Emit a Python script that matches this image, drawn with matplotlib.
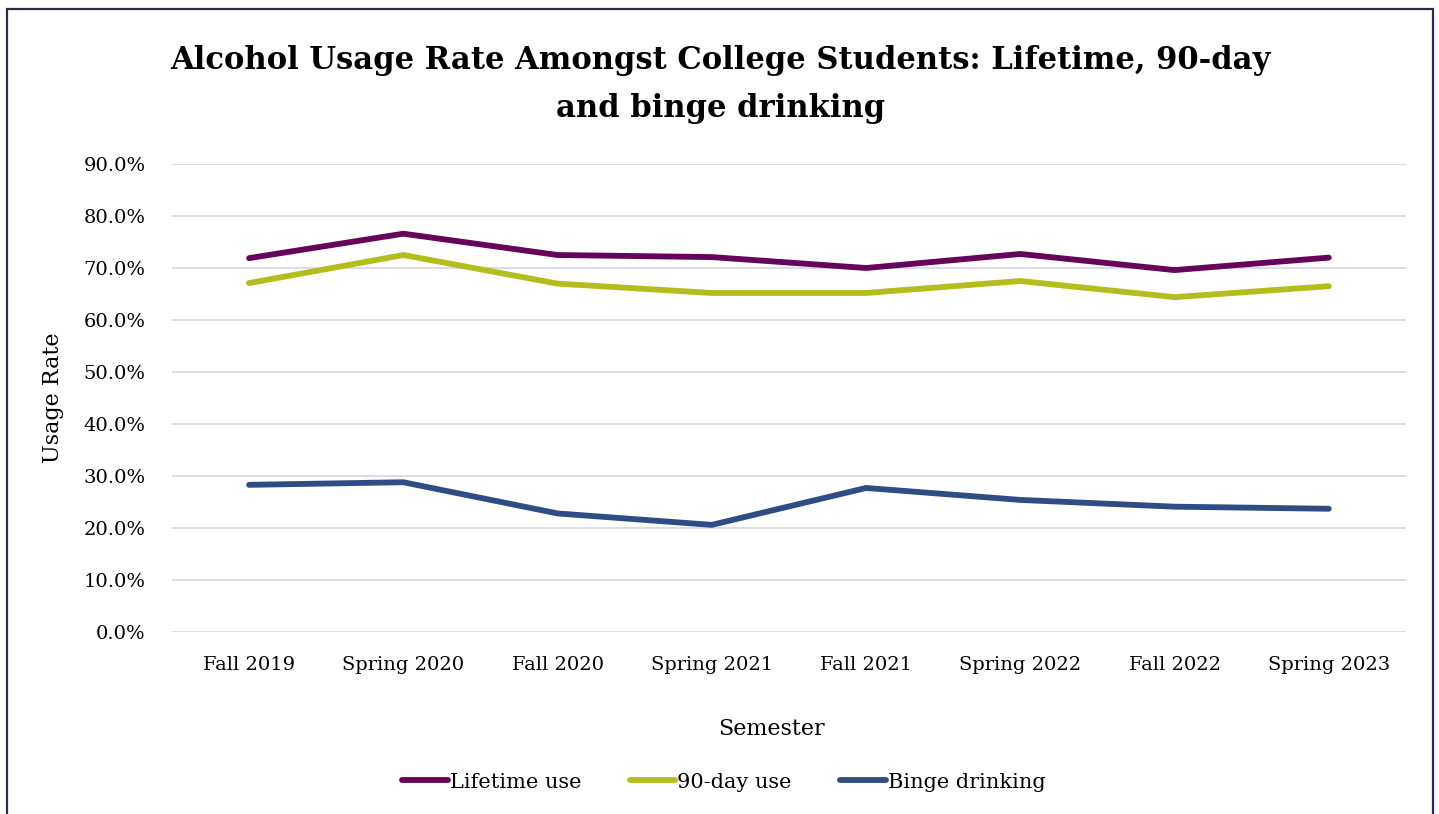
import matplotlib.pyplot as plt
from matplotlib.patches import Rectangle
from matplotlib.ticker import PercentFormatter

# values (percent)
semesters = ['Fall 2019', 'Spring 2020', 'Fall 2020', 'Spring 2021',
             'Fall 2021', 'Spring 2022', 'Fall 2022', 'Spring 2023']
lifetime = [71.9, 76.6, 72.5, 72.1, 70.0, 72.7, 69.6, 72.0]
ninety_day = [67.1, 72.5, 67.0, 65.2, 65.2, 67.5, 64.4, 66.5]
binge = [28.3, 28.8, 22.8, 20.6, 27.7, 25.4, 24.1, 23.7]

plt.rcParams['font.family'] = ['DejaVu Serif']

fig = plt.figure(figsize=(14.39, 8.14), dpi=100)
ax = fig.add_axes([0.1195, 0.2236, 0.8575, 0.5749])

x = range(len(semesters))
ax.plot(x, lifetime, color='#66045c', lw=4.2, solid_capstyle='round', label='Lifetime use')
ax.plot(x, ninety_day, color='#b4bd1e', lw=4.2, solid_capstyle='round', label='90-day use')
ax.plot(x, binge, color='#2f4c85', lw=4.2, solid_capstyle='round', label='Binge drinking')

ax.set_xlim(-0.5, len(semesters) - 0.5)
ax.set_ylim(0, 90)
ax.set_yticks(range(0, 91, 10))
ax.yaxis.set_major_formatter(PercentFormatter(decimals=1))
ax.set_xticks(list(x))
ax.set_xticklabels(semesters)
ax.tick_params(axis='both', length=0, labelsize=14)
ax.tick_params(axis='y', pad=19)
ax.tick_params(axis='x', pad=17)
ax.grid(axis='y', color='#d9d8e9', lw=1.3)
ax.set_axisbelow(True)
for s in ax.spines.values():
    s.set_visible(False)

ax.set_xlabel('Semester', fontsize=16, va='center')
ax.xaxis.set_label_coords(0.486, -0.207)
ax.set_ylabel('Usage Rate', fontsize=16, labelpad=14)

fig.text(0.501, 0.926, 'Alcohol Usage Rate Amongst College Students: Lifetime, 90-day',
         ha='center', va='center', fontsize=22.1, fontweight='bold')
fig.text(0.501, 0.867, 'and binge drinking',
         ha='center', va='center', fontsize=22.1, fontweight='bold')

fig.legend(loc='center', bbox_to_anchor=(0.503, 1 - 782 / 814), ncol=3, frameon=False,
           fontsize=15, handlelength=2.2, handletextpad=0.1, columnspacing=2.3)

fig.patches.append(Rectangle((7 / 1439, -0.05), 1426 / 1439, 1 - 9 / 814 + 0.05,
                             transform=fig.transFigure, fill=False,
                             edgecolor='#2b2a48', lw=1.6))

fig.savefig('out.png', dpi=100)
